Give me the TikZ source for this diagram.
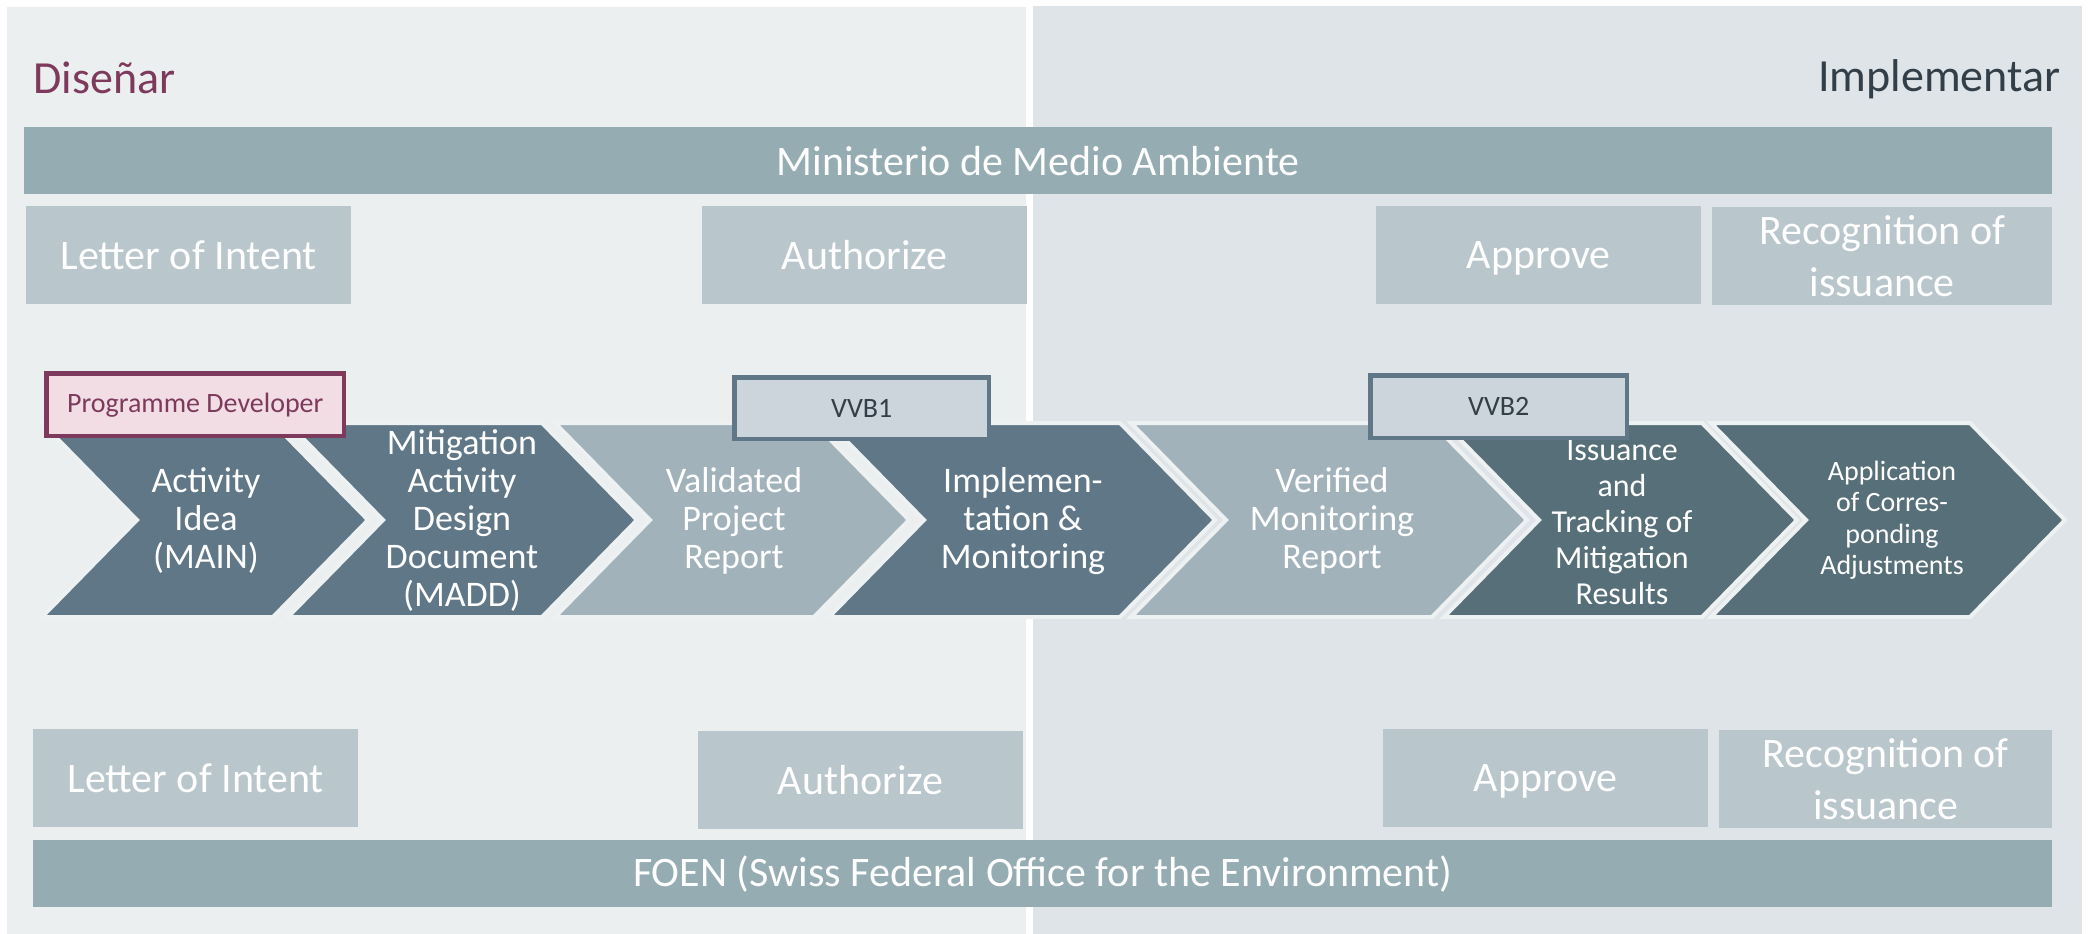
\documentclass[tikz,border=0pt]{standalone}
\usepackage{fontspec}
\setmainfont{Carlito}
\definecolor{leftbg}{HTML}{ECEFF0}
\definecolor{rightbg}{HTML}{DFE4E8}
\definecolor{barc}{HTML}{95ACB2}
\definecolor{boxc}{HTML}{B9C6CB}
\definecolor{slatec}{HTML}{5F7787}
\definecolor{lightc}{HTML}{A2B2BB}
\definecolor{tealc}{HTML}{576F78}
\definecolor{gapc}{HTML}{EEF1F2}
\definecolor{maroonc}{HTML}{7D3A5C}
\definecolor{pinkc}{HTML}{F2DDE5}
\definecolor{vvbc}{HTML}{CCD5DC}
\definecolor{darkc}{HTML}{333F48}

\begin{document}
\begin{tikzpicture}[x=1pt,y=-1pt,
    bar/.style={fill=barc,text=white,inner sep=0pt,anchor=north west,minimum height=67pt,font=\fontsize{42}{52}\selectfont},
    lbox/.style={fill=boxc,text=white,inner sep=0pt,anchor=north west,minimum height=98pt,text depth=0pt,align=center,font=\fontsize{42}{52}\selectfont},
    chev/.style={draw=gapc,line width=4pt},
    ctext/.style={text=white,align=center,font=\fontsize{36}{38}\selectfont},
    tagbox/.style={line width=4.5pt,inner sep=0pt,anchor=north west,font=\fontsize{28}{32}\selectfont}]
        \useasboundingbox (0,0) rectangle (2089,934);
        \fill[leftbg] (7,7) rectangle (1026,934);
        \fill[rightbg] (1033,6) rectangle (2082,934);

        \node[anchor=base west,text=maroonc,font=\fontsize{46}{52}\selectfont] (disenar) at (30,93) {Diseñar};
        \node[anchor=base east,text=darkc,font=\fontsize{46}{52}\selectfont] (implementar) at (2064,92) {Implementar};

        \node[bar,minimum width=2028pt] (minis) at (24,127) {Ministerio de Medio Ambiente};
        \node[bar,minimum width=2019pt] (foen) at (33,840) {FOEN (Swiss Federal Office for the Environment)};

        \node[lbox,minimum width=325pt] (loiT) at (26,206) {Letter of Intent};
        \node[lbox,minimum width=325pt] (authT) at (702,206) {Authorize};
        \node[lbox,minimum width=325pt] (apprT) at (1376,206) {Approve};
        \node[lbox,minimum width=340pt] (recT) at (1712,207) {Recognition of\\issuance};
        \node[lbox,minimum width=325pt] (loiB) at (33,729) {Letter of Intent};
        \node[lbox,minimum width=325pt] (authB) at (698,731) {Authorize};
        \node[lbox,minimum width=325pt] (apprB) at (1383,729) {Approve};
        \node[lbox,minimum width=333pt] (recB) at (1719,730) {Recognition of\\issuance};

        \foreach \lx/\rx/\c in {42/273/slatec,288/542/slatec,555/814/lightc,829/1120/slatec,1131/1432/lightc,1444/1702/tealc,1711/1970/tealc}
            \draw[chev,fill=\c] (\lx,423) -- (\rx,423) -- (\rx+95,520) -- (\rx,617) -- (\lx,617) -- (\lx+95,520) -- cycle;

        \node[ctext] (idea) at (206,521) {Activity\\Idea\\(MAIN)};
        \node[ctext] (madd) at (462,521) {Mitigation\\Activity\\Design\\Document\\(MADD)};
        \node[ctext] (valid) at (734,521) {Validated\\Project\\Report};
        \node[ctext] (implem) at (1023,521) {Implemen-\\tation \&\\Monitoring};
        \node[ctext] (verif) at (1332,521) {Verified\\Monitoring\\Report};
        \node[ctext,font=\fontsize{32}{36}\selectfont] (issue) at (1622,522) {Issuance\\and\\Tracking of\\Mitigation\\Results};
        \node[ctext,font=\fontsize{28}{31.5}\selectfont] (adjust) at (1892,520) {Application\\of Corres-\\ponding\\Adjustments};

        \node[tagbox,draw=maroonc,fill=pinkc,text=maroonc,minimum width=297.5pt,minimum height=62.5pt] (progdev) at (44.25,371.25) {Programme Developer};
        \node[tagbox,draw=slatec,fill=vvbc,text=darkc,minimum width=254.5pt,minimum height=61.5pt] (vvb1) at (732.25,375.25) {VVB1};
        \node[tagbox,draw=slatec,fill=vvbc,text=darkc,minimum width=256.5pt,minimum height=62.5pt] (vvb2) at (1368.25,373.25) {VVB2};
\end{tikzpicture}
\end{document}
